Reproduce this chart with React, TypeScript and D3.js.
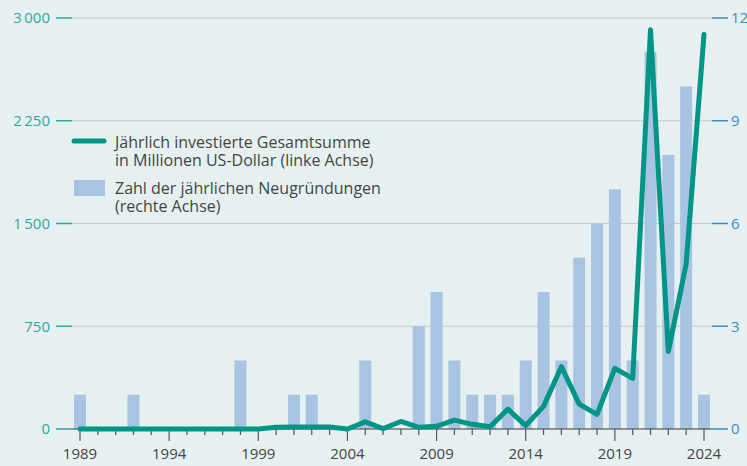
import React from "react";
import * as d3 from "d3";

const years: number[] = d3.range(1989, 2025);
const startupCounts: number[] = [
  1, 0, 0, 1, 0, 0, 0, 0, 0, 2, // 1989-1998
  0, 0, 1, 1, 0, 0, 2, 0, 0, 3, // 1999-2008
  4, 2, 1, 1, 1, 2, 4, 2, 5, 6, // 2009-2018
  7, 2, 11, 8, 10, 1,           // 2019-2024
];
const investment: number[] = [
  0, 0, 0, 0, 0, 0, 0, 0, 0, 0, // 1989-1998
  0, 12, 14, 14, 15, 0, 52, 3, 55, 12, // 1999-2008
  20, 65, 34, 17, 145, 25, 165, 455, 182, 107, // 2009-2018
  443, 370, 2915, 565, 1205, 2880, // 2019-2024
];
const leftTicks: number[] = [0, 750, 1500, 2250, 3000];
const rightTicks: number[] = [0, 3, 6, 9, 12];
const yearLabels: number[] = [1989, 1994, 1999, 2004, 2009, 2014, 2019, 2024];
const legendLine: string[] = ["Jährlich investierte Gesamtsumme", "in Millionen US-Dollar (linke Achse)"];
const legendBar: string[] = ["Zahl der jährlichen Neugründungen", "(rechte Achse)"];

const W = 747, H = 466;
const BG = "#e7f0f0";
const TEAL = "#009587";
const TEAL_TXT = "#2ea89b";
const BLUE_TXT = "#3a8cc6";
const BAR = "#a8c4e2";
const FONT = "'Open Sans', sans-serif";

export default function App() {
  const x = d3.scaleLinear().domain([1989, 2024]).range([80, 704]);
  const yL = d3.scaleLinear().domain([0, 3000]).range([429, 18]);
  const yR = d3.scaleLinear().domain([0, 12]).range([429, 18]);
  const barW = 12;
  const line = d3
    .line<number>()
    .x((_, i) => x(years[i]))
    .y((d) => yL(d))
    .curve(d3.curveLinear);
  const fmt = (v: number) => d3.format(",")(v).replace(/,/g, "\u2009");

  return (
    <svg width={W} height={H} style={{ position: "absolute", left: 0, top: 0, background: BG }} fontFamily={FONT}>
      <rect x={0} y={0} width={W} height={H} fill={BG} />
      {/* gridlines */}
      {leftTicks.filter((t) => t > 0).map((t) => (
        <line key={"g" + t} x1={72} x2={712} y1={yL(t)} y2={yL(t)} stroke="#c4c9ca" strokeWidth={1.2} />
      ))}
      {/* left ticks and labels */}
      {leftTicks.map((t) => (
        <g key={"l" + t}>
          <line x1={56} x2={72} y1={yL(t)} y2={yL(t)} stroke={TEAL_TXT} strokeWidth={1.5} />
          <text x={50} y={yL(t)} dy="0.35em" textAnchor="end" fontSize={15} fill={TEAL_TXT}>
            {fmt(t)}
          </text>
        </g>
      ))}
      {/* right ticks and labels */}
      {rightTicks.map((t) => (
        <g key={"r" + t}>
          <line x1={712} x2={728} y1={yR(t)} y2={yR(t)} stroke={BLUE_TXT} strokeWidth={1.5} />
          <text x={731} y={yR(t)} dy="0.35em" textAnchor="start" fontSize={15} fill={BLUE_TXT}>
            {t}
          </text>
        </g>
      ))}
      {/* bars */}
      {years.map((yr, i) =>
        startupCounts[i] > 0 ? (
          <rect
            key={"b" + yr}
            x={x(yr) - barW / 2}
            y={yR(startupCounts[i])}
            width={barW}
            height={yR(0) - yR(startupCounts[i])}
            fill={BAR}
          />
        ) : null
      )}
      {/* baseline */}
      <line x1={72} x2={712} y1={429} y2={429} stroke="#3a3a3a" strokeWidth={1.2} />
      {/* year ticks */}
      {years.map((yr) => {
        const major = (yr - 1989) % 5 === 0;
        return (
          <line
            key={"t" + yr}
            x1={x(yr)}
            x2={x(yr)}
            y1={429}
            y2={major ? 441 : 435}
            stroke="#555"
            strokeWidth={1.2}
          />
        );
      })}
      {yearLabels.map((yr) => (
        <text key={"yl" + yr} x={x(yr)} y={459} textAnchor="middle" fontSize={15} fill="#444">
          {yr}
        </text>
      ))}
      {/* line */}
      <path
        d={line(investment) || ""}
        fill="none"
        stroke={TEAL}
        strokeWidth={5}
        strokeLinejoin="round"
        strokeLinecap="round"
      />
      {/* legend */}
      <line x1={74} x2={104} y1={141} y2={141} stroke={TEAL} strokeWidth={5} strokeLinecap="round" />
      {legendLine.map((s, i) => (
        <text key={"ll" + i} x={115} y={142 + i * 18.7} dy="0.35em" fontSize={16} fill="#444">
          {s}
        </text>
      ))}
      <rect x={74} y={180} width={31} height={16} fill={BAR} />
      {legendBar.map((s, i) => (
        <text key={"lb" + i} x={115} y={188 + i * 18.7} dy="0.35em" fontSize={16} fill="#444">
          {s}
        </text>
      ))}
    </svg>
  );
}
